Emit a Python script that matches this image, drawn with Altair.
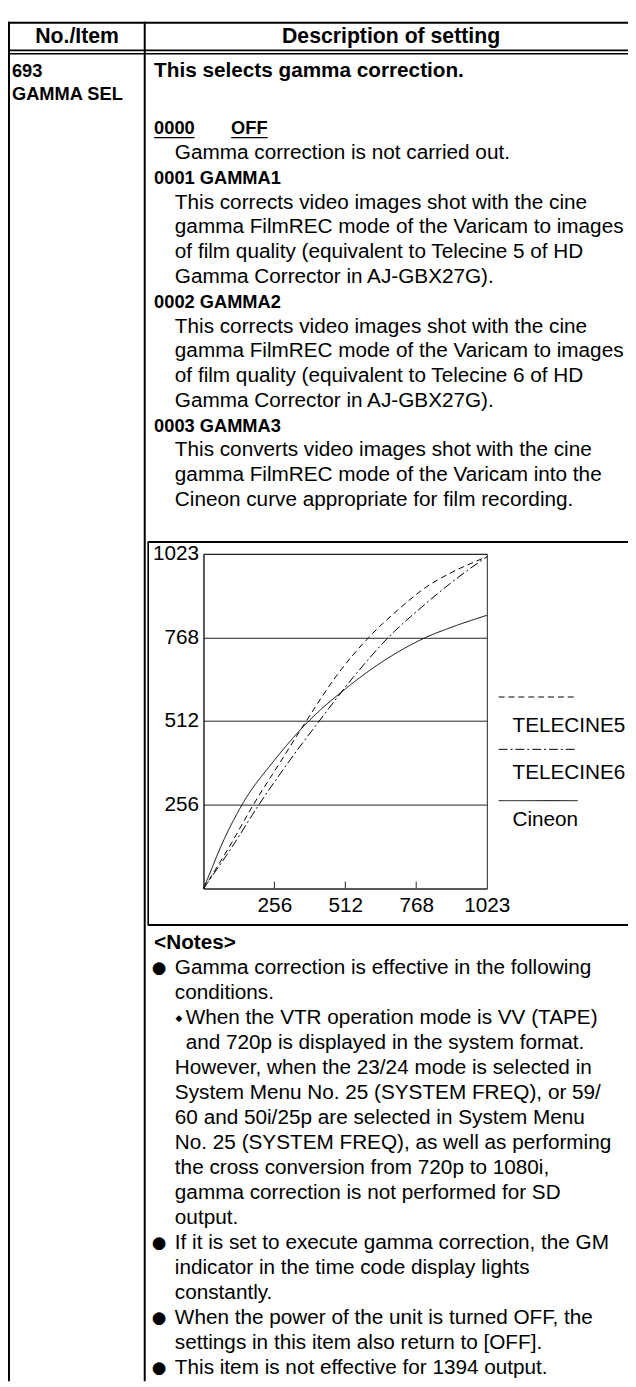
import altair as alt
import pandas as pd

# ---------------- content ----------------
HEADER = ["No./Item", "Description of setting"]
ITEM_LINES = ["693", "GAMMA SEL"]
INTRO = "This selects gamma correction."
OFF_CODE = "0000"
OFF_NAME = "OFF"
OFF_BODY = ["Gamma correction is not carried out."]
SET1_HEAD = "0001 GAMMA1"
SET1_BODY = ["This corrects video images shot with the cine",
             "gamma FilmREC mode of the Varicam to images",
             "of film quality (equivalent to Telecine 5 of HD",
             "Gamma Corrector in AJ-GBX27G)."]
SET2_HEAD = "0002 GAMMA2"
SET2_BODY = ["This corrects video images shot with the cine",
             "gamma FilmREC mode of the Varicam to images",
             "of film quality (equivalent to Telecine 6 of HD",
             "Gamma Corrector in AJ-GBX27G)."]
SET3_HEAD = "0003 GAMMA3"
SET3_BODY = ["This converts video images shot with the cine",
             "gamma FilmREC mode of the Varicam into the",
             "Cineon curve appropriate for film recording."]
NOTES_TITLE = "<Notes>"
NOTE1 = ["Gamma correction is effective in the following", "conditions."]
NOTE1_SUB = ["When the VTR operation mode is VV (TAPE)",
             "and 720p is displayed in the system format."]
NOTE1_TAIL = ["However, when the 23/24 mode is selected in",
              "System Menu No. 25 (SYSTEM FREQ), or 59/",
              "60 and 50i/25p are selected in System Menu",
              "No. 25 (SYSTEM FREQ), as well as performing",
              "the cross conversion from 720p to 1080i,",
              "gamma correction is not performed for SD",
              "output."]
NOTE2 = ["If it is set to execute gamma correction, the GM",
         "indicator in the time code display lights",
         "constantly."]
NOTE3 = ["When the power of the unit is turned OFF, the",
         "settings in this item also return to [OFF]."]
NOTE4 = ["This item is not effective for 1394 output."]

# ---------------- chart data ----------------
SERIES = ["TELECINE5", "TELECINE6", "Cineon"]
T5_IN = [0, 90, 180, 280, 371, 480, 597, 700, 800, 900, 953, 1023]
T5_OUT = [0, 123, 256, 390, 512, 650, 768, 850, 919, 968, 989, 1014]
T6_IN = [0, 100, 200, 310, 418, 540, 668, 800, 916, 1023]
T6_OUT = [0, 123, 256, 390, 512, 645, 768, 869, 949, 1014]
CIN_IN = [0, 26, 60, 139, 256, 380, 512, 640, 804, 900, 1023]
CIN_OUT = [0, 53, 123, 256, 392, 512, 610, 690, 768, 800, 835]
AXIS_VALUES = [256, 512, 768, 1023]
INNER_TICKS = [256, 512, 768]

# ---------------- layout (page pixels) ----------------
X0, Y0 = 206, 552          # plot origin on the page
PW, PH = 287, 339          # plot size
PAD_L, PAD_T = X0 - 8, Y0 - 8
PAD_R = 628 - PAD_L - PW
PAD_B = 1379 - PAD_T - PH
L = 25.1
LN = 25.35

SANS = "Liberation Sans, Arial, Helvetica, sans-serif"
SYM = "DejaVu Sans, sans-serif"

rows = []


def add(x, y, text, style):
    rows.append(dict(x=x - X0, y=y - Y0, text=text, style=style))


add(78, 29, HEADER[0], "head")
add(396, 29, HEADER[1], "head")
for i, t in enumerate(ITEM_LINES):
    add(12, 63 + i * 23, t, "narrow")
add(156, 63, INTRO, "bold")
add(156, 121, OFF_CODE, "narrow")
add(234, 121, OFF_NAME, "narrow")
y = 121 + L
for t in OFF_BODY:
    add(177, y, t, "body"); y += L
for head, body in [(SET1_HEAD, SET1_BODY), (SET2_HEAD, SET2_BODY), (SET3_HEAD, SET3_BODY)]:
    add(156, y, head, "narrow"); y += L
    for t in body:
        add(177, y, t, "body"); y += L

y = 946
add(156, y, NOTES_TITLE, "bold"); y += LN
add(161, y, "\u25cf", "bullet")
for t in NOTE1:
    add(177, y, t, "body"); y += LN
add(181, y, "\u25c6", "diamond")
for t in NOTE1_SUB:
    add(188, y, t, "body"); y += LN
for t in NOTE1_TAIL:
    add(177, y, t, "body"); y += LN
for note in [NOTE2, NOTE3, NOTE4]:
    add(161, y, "\u25cf", "bullet")
    for t in note:
        add(177, y, t, "body"); y += LN

# legend labels
for s, ly in zip(SERIES, [726, 774, 822]):
    add(519, ly, s, "body")

tdf = pd.DataFrame(rows)

rules = []


def rule(x, x2, y, y2, w):
    rules.append(dict(x=x - X0, x2=x2 - X0, y=y - Y0, y2=y2 - Y0, w=w))


rule(8, 640, 14, 14, 2)
rule(8, 640, 42, 42, 1.6)
rule(8, 640, 45.5, 45.5, 1.6)
rule(9, 9, 13, 1390, 2)
rule(146.5, 146.5, 13, 1390, 2)
rule(149.5, 640, 540, 540, 2)
rule(150, 150, 540, 928, 1.6)
rule(149.5, 640, 928, 928, 2)
rule(156, 197, 130.5, 130.5, 1.3)
rule(234, 271, 130.5, 130.5, 1.3)
rdf = pd.DataFrame(rules)

leg = pd.DataFrame({"series": SERIES,
                    "x": [505 - X0] * 3, "x2": [585 - X0] * 3,
                    "y": [697 - Y0, 750 - Y0, 802 - Y0]})

curves = pd.concat([
    pd.DataFrame({"series": SERIES[0], "input": T5_IN, "output": T5_OUT}),
    pd.DataFrame({"series": SERIES[1], "input": T6_IN, "output": T6_OUT}),
    pd.DataFrame({"series": SERIES[2], "input": CIN_IN, "output": CIN_OUT}),
])

xs = alt.Scale(domain=[0, 1023], nice=False, zero=False)
ys = alt.Scale(domain=[0, 1023], nice=False, zero=False)
dash = alt.Scale(domain=SERIES, range=[[6, 4], [9, 3, 2, 3], [1, 0]])

x_axis = alt.Axis(values=AXIS_VALUES, format="d", grid=False, ticks=False, domain=True,
                  domainColor="#222", labelFont=SANS, labelFontSize=21, labelColor="black",
                  labelPadding=6, labelFlush=False, labelOverlap=False, title=None)
y_axis = alt.Axis(values=AXIS_VALUES, format="d", grid=True, gridColor="#222", gridOpacity=1,
                  gridWidth=1, ticks=False, domain=True, domainColor="#222",
                  labelFont=SANS, labelFontSize=21, labelColor="black",
                  labelPadding=5, labelFlush=False, labelOverlap=False, title=None)

curve_layer = alt.Chart(curves).mark_line(color="black", strokeWidth=1, interpolate="monotone").encode(
    x=alt.X("input:Q", scale=xs, axis=x_axis),
    y=alt.Y("output:Q", scale=ys, axis=y_axis),
    strokeDash=alt.StrokeDash("series:N", scale=dash, legend=None),
    detail="series:N",
)

tick_layer = alt.Chart(pd.DataFrame({"input": INNER_TICKS})).mark_rule(color="#222", strokeWidth=1).encode(
    x=alt.X("input:Q", scale=xs, axis=x_axis),
    y=alt.value(PH), y2=alt.value(PH - 7),
)

legend_layer = alt.Chart(leg).mark_rule(color="black", strokeWidth=1).encode(
    x=alt.X("x:Q", scale=None), x2="x2:Q",
    y=alt.Y("y:Q", scale=None),
    strokeDash=alt.StrokeDash("series:N", scale=dash, legend=None),
)

rule_layer = alt.Chart(rdf).mark_rule(color="black").encode(
    x=alt.X("x:Q", scale=None), x2="x2:Q",
    y=alt.Y("y:Q", scale=None), y2="y2:Q",
    strokeWidth=alt.StrokeWidth("w:Q", scale=None),
)

STYLES = {
    "head": dict(font=SANS, fontSize=21.5, fontWeight="bold", align="center"),
    "bold": dict(font=SANS, fontSize=21, fontWeight="bold", align="left"),
    "narrow": dict(font=SANS, fontSize=18.5, fontWeight="bold", align="left"),
    "body": dict(font=SANS, fontSize=21, fontWeight="normal", align="left"),
    "bullet": dict(font=SYM, fontSize=17, fontWeight="normal", align="center"),
    "diamond": dict(font=SYM, fontSize=9, fontWeight="normal", align="center"),
}

text_layers = []
for name, st in STYLES.items():
    sub = tdf[tdf["style"] == name]
    text_layers.append(
        alt.Chart(sub).mark_text(baseline="middle", color="black", **st).encode(
            x=alt.X("x:Q", scale=None), y=alt.Y("y:Q", scale=None), text="text:N")
    )

chart = alt.layer(curve_layer, tick_layer, legend_layer, rule_layer, *text_layers).properties(
    width=PW, height=PH,
    autosize=alt.AutoSizeParams(type="none"),
    padding={"left": PAD_L, "top": PAD_T, "right": PAD_R, "bottom": PAD_B},
    background="white",
).configure_view(stroke="#222", strokeWidth=1)

chart.save("out.html", embed_options={"renderer": "svg", "actions": False})
